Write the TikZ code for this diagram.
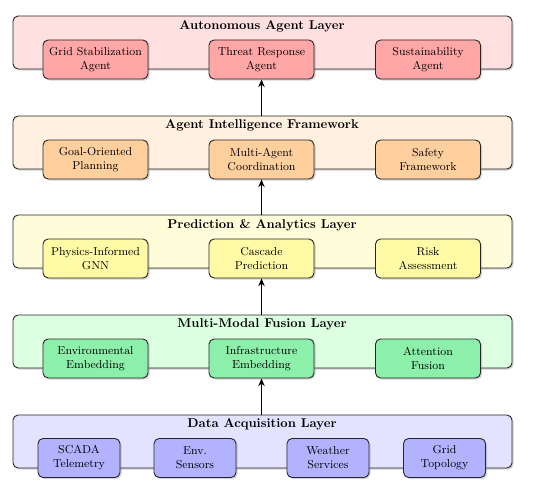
\documentclass[tikz,border=0pt]{standalone}
\usetikzlibrary{shadows,arrows.meta}
\definecolor{mintfill}{RGB}{140,240,170}
\definecolor{mintlayer}{RGB}{220,255,225}
\begin{document}
\begin{tikzpicture}[x=0.0275cm,y=-0.0275cm,
  layerbox/.style={draw=black!85,line width=0.7pt,rounded corners=4pt,minimum width=499*0.0275cm,minimum height=53*0.0275cm, drop shadow={opacity=0.35,shadow xshift=1.2pt,shadow yshift=-1.2pt}},
  layertitle/.style={font=\bfseries,inner sep=0pt},
  innerbox/.style={draw=black!85,line width=0.7pt,rounded corners=4pt,align=center,font=\small,minimum height=39*0.0275cm,inner sep=1pt,drop shadow={opacity=0.35,shadow xshift=1.2pt,shadow yshift=-1.2pt}},
  wide/.style={innerbox,minimum width=105*0.0275cm},
  narrow/.style={innerbox,minimum width=82*0.0275cm},
  arr/.style={-{Stealth[length=6pt,width=5pt]},line width=1.3pt}
]
\useasboundingbox (0,0) rectangle (538,488);
% layer boxes
\node[layerbox,fill=red!12] (L1) at (262.5,42.5) {};
\node[layerbox,fill=orange!12] (L2) at (262.5,142.5) {};
\node[layerbox,fill=yellow!15] (L3) at (262.5,241.5) {};
\node[layerbox,fill=mintlayer] (L4) at (262.5,341.5) {};
\node[layerbox,fill=blue!11] (L5) at (262.5,441.5) {};
% titles
\node[layertitle] (T1) at (262,26) {Autonomous Agent Layer};
\node[layertitle] (T2) at (262,125) {Agent Intelligence Framework};
\node[layertitle] (T3) at (262,225) {Prediction \& Analytics Layer};
\node[layertitle] (T4) at (262,324) {Multi-Modal Fusion Layer};
\node[layertitle] (T5) at (262,424) {Data Acquisition Layer};
% layer 1
\node[wide,fill=red!35] (a1) at (95.5,59.5) {Grid Stabilization\\Agent};
\node[wide,fill=red!35] (a2) at (261.5,59.5) {Threat Response\\Agent};
\node[wide,fill=red!35] (a3) at (428,59.5) {Sustainability\\Agent};
% layer 2
\node[wide,fill=orange!38] (b1) at (95.5,159.5) {Goal-Oriented\\Planning};
\node[wide,fill=orange!38] (b2) at (261.5,159.5) {Multi-Agent\\Coordination};
\node[wide,fill=orange!38] (b3) at (428,159.5) {Safety\\Framework};
% layer 3
\node[wide,fill=yellow!35] (c1) at (95.5,258.5) {Physics-Informed\\GNN};
\node[wide,fill=yellow!35] (c2) at (261.5,258.5) {Cascade\\Prediction};
\node[wide,fill=yellow!35] (c3) at (428,258.5) {Risk\\Assessment};
% layer 4
\node[wide,fill=mintfill] (d1) at (95.5,358.5) {Environmental\\Embedding};
\node[wide,fill=mintfill] (d2) at (261.5,358.5) {Infrastructure\\Embedding};
\node[wide,fill=mintfill] (d3) at (428,358.5) {Attention\\Fusion};
% layer 5
\node[narrow,fill=blue!30] (e1) at (79,458) {SCADA\\Telemetry};
\node[narrow,fill=blue!30] (e2) at (195,458) {Env.\\Sensors};
\node[narrow,fill=blue!30] (e3) at (328,458) {Weather\\Services};
\node[narrow,fill=blue!30] (e4) at (444.5,458) {Grid\\Topology};
% arrows
\draw[arr] (L5.north -| d2.south) -- (d2.south);
\draw[arr] (L4.north -| c2.south) -- (c2.south);
\draw[arr] (L3.north -| b2.south) -- (b2.south);
\draw[arr] (L2.north -| a2.south) -- (a2.south);
\end{tikzpicture}
\end{document}
